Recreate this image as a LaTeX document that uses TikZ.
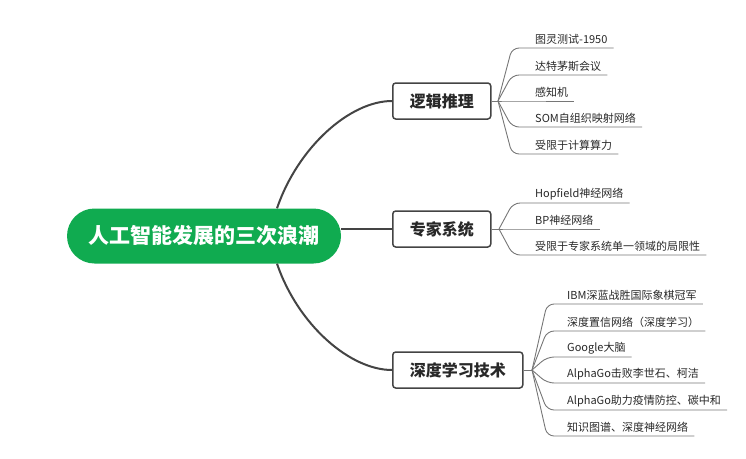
\documentclass[tikz,border=0pt]{standalone}
\usepackage{fontspec}
\setmainfont{Noto Sans CJK SC}
\usetikzlibrary{calc,positioning}
\definecolor{mapgreen}{RGB}{16,171,80}
\definecolor{linegray}{RGB}{68,68,68}
\definecolor{leafgray}{RGB}{118,118,118}
\definecolor{txtgray}{RGB}{40,40,40}

\begin{document}
\begin{tikzpicture}[x=1pt, y=-1pt,
  root/.style={fill=mapgreen, text=white, rounded corners=27.5pt, minimum width=274pt, minimum height=55pt, font=\fontsize{21}{25}\selectfont\bfseries},
  branch/.style={draw=linegray, line width=1.5pt, fill=white, rounded corners=3pt, minimum height=36pt, inner xsep=17pt, font=\fontsize{16}{19}\selectfont\bfseries, text=txtgray, anchor=west},
  leaf/.style={anchor=south west, inner xsep=6pt, inner ysep=3pt, font=\fontsize{11}{13}\selectfont, text=txtgray},
  trunk/.style={draw=linegray, line width=2pt},
  twig/.style={draw=leafgray, line width=0.9pt, rounded corners=7pt}]
  \useasboundingbox (0,0) rectangle (746,458);

  % centre and the three branches
  \node[root] (wave) at (204,236) {人工智能发展的三次浪潮};
  \node[branch] (logic) at (392,101) {逻辑推理};
  \node[branch] (expert) at (392,229) {专家系统};
  \node[branch] (deep) at (392,370) {深度学习技术};

  \coordinate (wtop) at ([xshift=73pt]wave.north);
  \coordinate (wbot) at ([xshift=73pt]wave.south);
  \draw[trunk] (wtop) .. controls (298,147) and (350,101) .. (logic.west);
  \draw[trunk] (wave.east |- expert.west) -- (expert.west);
  \draw[trunk] (wbot) .. controls (298,325) and (350,370) .. (deep.west);

  % leaves of logic
  \node[leaf] (l1) at (529,48) {图灵测试-1950};
  \node[leaf] (l2) at (529,75) {达特茅斯会议};
  \node[leaf] (l3) at (529,101) {感知机};
  \node[leaf] (l4) at (529,127) {SOM自组织映射网络};
  \node[leaf] (l5) at (529,154) {受限于计算算力};
  \coordinate (hl) at (498,101);
  \coordinate (kl) at (512,101);
  \draw[twig] (logic.east) -- (hl);
  \draw[twig] (hl) -- (kl |- l1.south) -- (l1.south east);
  \draw[twig] (hl) -- (kl |- l2.south) -- (l2.south east);
  \draw[twig] (hl) -- (kl |- l3.south) -- (l3.south east);
  \draw[twig] (hl) -- (kl |- l4.south) -- (l4.south east);
  \draw[twig] (hl) -- (kl |- l5.south) -- (l5.south east);

  % leaves of expert
  \node[leaf] (e1) at (529,203) {Hopfield神经网络};
  \node[leaf] (e2) at (529,229) {BP神经网络};
  \node[leaf] (e3) at (529,255) {受限于专家系统单一领域的局限性};
  \coordinate (he) at (499,229);
  \coordinate (ke) at (513,229);
  \draw[twig] (expert.east) -- (he);
  \draw[twig] (he) -- (ke |- e1.south) -- (e1.south east);
  \draw[twig] (he) -- (ke |- e2.south) -- (e2.south east);
  \draw[twig] (he) -- (ke |- e3.south) -- (e3.south east);

  % leaves of deep
  \node[leaf] (d1) at (561,304) {IBM深蓝战胜国际象棋冠军};
  \node[leaf] (d2) at (561,331) {深度置信网络（深度学习）};
  \node[leaf] (d3) at (561,357) {Google大脑};
  \node[leaf] (d4) at (561,383) {AlphaGo击败李世石、柯洁};
  \node[leaf] (d5) at (561,410) {AlphaGo助力疫情防控、碳中和};
  \node[leaf] (d6) at (561,436) {知识图谱、深度神经网络};
  \coordinate (hd) at (532,370);
  \coordinate (kd) at (547,370);
  \draw[twig] (deep.east) -- (hd);
  \draw[twig] (hd) -- (kd |- d1.south) -- (d1.south east);
  \draw[twig] (hd) -- (kd |- d2.south) -- (d2.south east);
  \draw[twig] (hd) -- (kd |- d3.south) -- (d3.south east);
  \draw[twig] (hd) -- (kd |- d4.south) -- (d4.south east);
  \draw[twig] (hd) -- (kd |- d5.south) -- (d5.south east);
  \draw[twig] (hd) -- (kd |- d6.south) -- (d6.south east);
\end{tikzpicture}
\end{document}
